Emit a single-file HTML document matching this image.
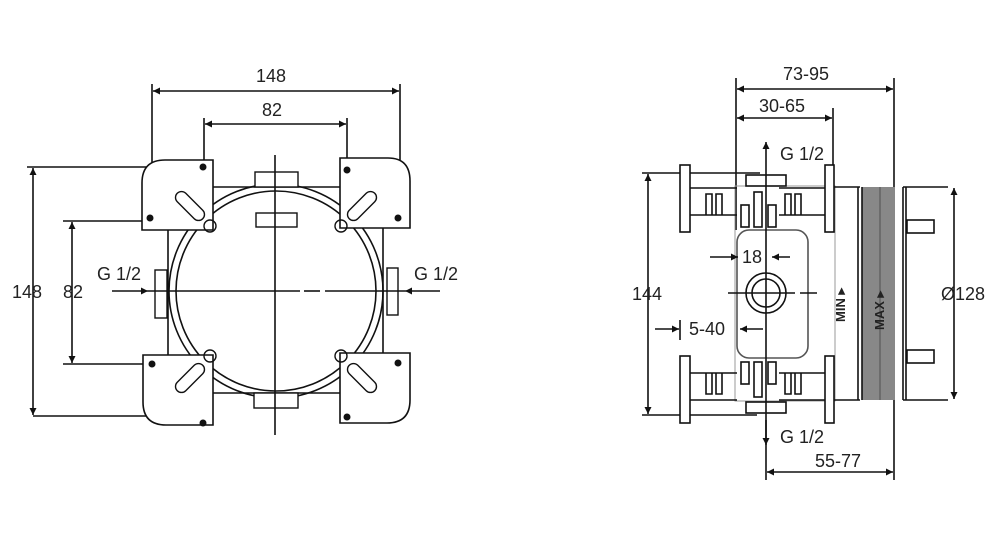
<!DOCTYPE html>
<html><head><style>
html,body{margin:0;padding:0;background:#fff;}
svg{display:block;}
text{font-family:"Liberation Sans",sans-serif;font-size:18px;fill:#222;}
</style></head><body>
<svg width="1000" height="550" viewBox="0 0 1000 550" xmlns="http://www.w3.org/2000/svg">
<defs>
<marker id="a" viewBox="0 0 10 10" refX="10" refY="5" markerWidth="9" markerHeight="7" orient="auto-start-reverse" markerUnits="userSpaceOnUse"><path d="M0,0L10,5L0,10z" fill="#111"/></marker>
</defs>
<g stroke="#111" stroke-width="1.6" fill="none">
<line x1="152" y1="84" x2="152" y2="217"/><line x1="400" y1="84" x2="400" y2="165"/>
<line x1="153" y1="91" x2="399" y2="91" marker-start="url(#a)" marker-end="url(#a)"/>
<line x1="204" y1="118" x2="204" y2="167"/><line x1="347" y1="118" x2="347" y2="170"/>
<line x1="205" y1="124" x2="346" y2="124" marker-start="url(#a)" marker-end="url(#a)"/>
<line x1="27" y1="167" x2="205" y2="167"/><line x1="33" y1="416" x2="208" y2="416"/>
<line x1="33" y1="168" x2="33" y2="415" marker-start="url(#a)" marker-end="url(#a)"/>
<line x1="63" y1="221" x2="152" y2="221"/><line x1="63" y1="364" x2="152" y2="364"/>
<line x1="72" y1="222" x2="72" y2="363" marker-start="url(#a)" marker-end="url(#a)"/>
<rect x="168" y="187" width="215" height="206" rx="8"/>
<circle cx="276" cy="291" r="107"/><circle cx="276" cy="291" r="100"/>
<path d="M213,160 H165 Q142,160 142,183 V230 H213 Z" fill="#fff"/>
<path d="M340,158 H388 Q410,158 410,181 V228 H340 Z" fill="#fff"/>
<path d="M143,355 H213 V425 H166 Q143,425 143,402 Z" fill="#fff"/>
<path d="M340,353 H410 V400 Q410,423 387,423 H340 Z" fill="#fff"/>
<g stroke-width="1.4">
<rect x="172" y="200" width="36" height="12" rx="6" transform="rotate(45 190 206)"/>
<rect x="344" y="200" width="36" height="12" rx="6" transform="rotate(-45 362 206)"/>
<rect x="172" y="372" width="36" height="12" rx="6" transform="rotate(-45 190 378)"/>
<rect x="344" y="372" width="36" height="12" rx="6" transform="rotate(45 362 378)"/>
<circle cx="210" cy="226" r="6"/><circle cx="341" cy="226" r="6"/>
<circle cx="210" cy="356" r="6"/><circle cx="341" cy="356" r="6"/>
<rect x="255" y="172" width="43" height="15" fill="#fff"/>
<rect x="254" y="393" width="44" height="15" fill="#fff"/>
<rect x="155" y="270" width="12" height="48" fill="#fff"/>
<rect x="387" y="268" width="11" height="47" fill="#fff"/>
<rect x="256" y="213" width="41" height="14"/>
</g>
<g fill="#111" stroke="none">
<circle cx="203" cy="167" r="3.5"/><circle cx="150" cy="218" r="3.5"/>
<circle cx="347" cy="170" r="3.5"/><circle cx="398" cy="218" r="3.5"/>
<circle cx="152" cy="364" r="3.5"/><circle cx="203" cy="423" r="3.5"/>
<circle cx="398" cy="363" r="3.5"/><circle cx="347" cy="417" r="3.5"/>
</g>
<line x1="275" y1="155" x2="275" y2="435"/>
<line x1="112" y1="291" x2="148" y2="291" marker-end="url(#a)"/>
<line x1="148" y1="291" x2="300" y2="291"/><line x1="304" y1="291" x2="320" y2="291"/><line x1="325" y1="291" x2="405" y2="291"/>
<line x1="440" y1="291" x2="405" y2="291" marker-end="url(#a)"/>

<line x1="736" y1="78" x2="736" y2="230"/><line x1="894" y1="78" x2="894" y2="480"/>
<line x1="737" y1="89" x2="893" y2="89" marker-start="url(#a)" marker-end="url(#a)"/>
<line x1="833" y1="108" x2="833" y2="190"/>
<line x1="737" y1="118" x2="832" y2="118" marker-start="url(#a)" marker-end="url(#a)"/>
<line x1="642" y1="173" x2="760" y2="173"/><line x1="642" y1="415" x2="757" y2="415"/>
<line x1="648" y1="174" x2="648" y2="414" marker-start="url(#a)" marker-end="url(#a)"/>
<line x1="767" y1="472" x2="893" y2="472" marker-start="url(#a)" marker-end="url(#a)"/>
<rect x="735" y="186" width="100" height="215" stroke="#999" stroke-width="1"/>
<rect x="737" y="230" width="71" height="128" rx="12" stroke="#555" fill="#fff"/>
<circle cx="766" cy="293" r="20"/><circle cx="766" cy="293" r="14"/>
<rect x="680" y="165" width="10" height="67" fill="#fff"/><rect x="680" y="356" width="10" height="67" fill="#fff"/>
<rect x="825" y="165" width="9" height="67" fill="#fff"/><rect x="825" y="356" width="9" height="67" fill="#fff"/>
<line x1="690" y1="188" x2="737" y2="188"/><line x1="690" y1="215" x2="737" y2="215"/>
<line x1="779" y1="188" x2="825" y2="188"/><line x1="779" y1="215" x2="825" y2="215"/>
<line x1="690" y1="373" x2="737" y2="373"/><line x1="690" y1="400" x2="737" y2="400"/>
<line x1="779" y1="373" x2="825" y2="373"/><line x1="779" y1="400" x2="825" y2="400"/>
<path d="M706,215V194H712V215M716,215V194H722V215M785,215V194H791V215M795,215V194H801V215"/>
<path d="M706,373V394H712V373M716,373V394H722V373M785,373V394H791V373M795,373V394H801V373"/>
<rect x="746" y="175" width="40" height="11" fill="#fff"/><rect x="746" y="402" width="40" height="11" fill="#fff"/>
<rect x="741" y="205" width="8" height="22"/><rect x="754" y="192" width="8" height="35"/><rect x="768" y="205" width="8" height="22"/>
<rect x="741" y="362" width="8" height="22"/><rect x="754" y="362" width="8" height="35"/><rect x="768" y="362" width="8" height="22"/>
<line x1="834" y1="187" x2="860" y2="187"/><line x1="834" y1="400" x2="860" y2="400"/>
<rect x="862" y="187" width="33" height="213" fill="#888" stroke="none"/>
<line x1="858" y1="187" x2="858" y2="400"/><line x1="862" y1="187" x2="862" y2="400"/>
<line x1="880" y1="187" x2="880" y2="400" stroke="#666"/>
<line x1="903" y1="187" x2="903" y2="400"/><line x1="906" y1="187" x2="906" y2="400"/>
<line x1="903" y1="187" x2="948" y2="187"/><line x1="903" y1="400" x2="948" y2="400"/>
<rect x="907" y="220" width="27" height="13"/><rect x="907" y="350" width="27" height="13"/>
<line x1="954" y1="188" x2="954" y2="399" marker-start="url(#a)" marker-end="url(#a)"/>
<line x1="766" y1="480" x2="766" y2="142" marker-end="url(#a)"/>
<line x1="766" y1="420" x2="766" y2="445" marker-end="url(#a)"/>
<line x1="728" y1="293" x2="795" y2="293"/><line x1="800" y1="293" x2="817" y2="293"/>
<line x1="710" y1="257" x2="738" y2="257" marker-end="url(#a)"/>
<line x1="790" y1="257" x2="772" y2="257" marker-end="url(#a)"/>
<line x1="655" y1="329" x2="679" y2="329" marker-end="url(#a)"/>
<line x1="763" y1="329" x2="740" y2="329" marker-end="url(#a)"/>
<line x1="680" y1="320" x2="680" y2="340"/>
</g>
<text x="256" y="82">148</text>
<text x="262" y="116">82</text>
<text x="12" y="298">148</text>
<text x="63" y="298">82</text>
<text x="97" y="280">G 1/2</text>
<text x="414" y="280">G 1/2</text>
<text x="783" y="80">73-95</text>
<text x="759" y="112">30-65</text>
<text x="780" y="160">G 1/2</text>
<text x="780" y="443">G 1/2</text>
<text x="815" y="467">55-77</text>
<text x="632" y="300">144</text>
<text x="941" y="300">Ø128</text>
<text x="742" y="263">18</text>
<text x="689" y="335">5-40</text>
<text x="0" y="0" transform="translate(845,322) rotate(-90)" style="font-size:13px;font-weight:bold">MIN ▸</text>
<text x="0" y="0" transform="translate(884,330) rotate(-90)" style="font-size:13px;font-weight:bold">MAX ▸</text>
</svg>
</body></html>
